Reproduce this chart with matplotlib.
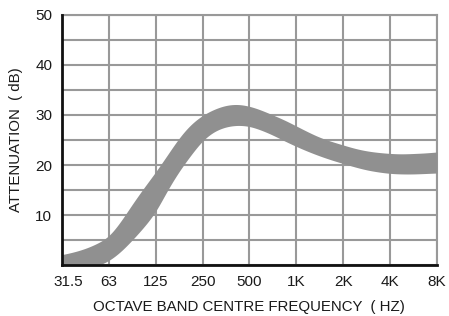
import numpy as np
import matplotlib.pyplot as plt
from matplotlib.transforms import ScaledTranslation

plt.rcParams['font.family'] = ['Liberation Sans', 'DejaVu Sans']

# octave band centre labels, placed at octave index 0..8
band_labels = ['31.5', '63', '125', '250', '500', '1K', '2K', '4K', '8K']

octave_pos = np.arange(0, 8.01, 0.25)
upper_db = [2.1, 2.6, 3.3, 4.3, 5.6, 8.6, 12.2, 15.5, 18.6, 22.0, 25.5, 28.2,
            30.0, 31.2, 32.0, 32.2, 31.8, 31.0, 30.0, 29.0, 27.8, 26.6, 25.5,
            24.7, 24.0, 23.3, 22.8, 22.5, 22.3, 22.2, 22.3, 22.4, 22.6]
lower_db = [-2.0, -1.5, -0.8, -0.2, 0.8, 2.6, 5.0, 7.6, 10.5, 15.0, 18.8, 22.0,
            25.0, 26.8, 27.7, 28.0, 27.8, 27.0, 26.0, 24.8, 23.7, 22.7, 21.8,
            21.0, 20.3, 19.6, 19.0, 18.6, 18.3, 18.2, 18.2, 18.3, 18.4]


def smooth(xs, ys, n=801, width=0.12):
    # linear resample then a light gaussian blur to round off the corners
    xf = np.linspace(xs[0], xs[-1], n)
    yf = np.interp(xf, xs, ys)
    step = xf[1] - xf[0]
    k = np.arange(-int(3 * width / step), int(3 * width / step) + 1) * step
    kern = np.exp(-0.5 * (k / width) ** 2)
    kern /= kern.sum()
    pad = len(k) // 2
    ypad = np.concatenate([np.full(pad, yf[0]) + (yf[0] - yf[1]) * np.arange(pad, 0, -1),
                           yf,
                           np.full(pad, yf[-1]) + (yf[-1] - yf[-2]) * np.arange(1, pad + 1)])
    return xf, np.convolve(ypad, kern, mode='valid')


fig = plt.figure(figsize=(4.49, 3.16), dpi=100)
ax = fig.add_axes([0.138, 0.161, 0.835, 0.792])

xs, up = smooth(octave_pos, upper_db)
_, lo = smooth(octave_pos, lower_db)
ax.fill_between(xs, lo, up, color='#909090', lw=0, zorder=3)

ax.set_xlim(0, 8)
ax.set_ylim(0, 50)
ax.set_xticks(range(len(band_labels)))
ax.set_xticklabels(band_labels)
ax.set_yticks(np.arange(0, 51, 5))
ax.set_yticklabels(['' if v % 10 or v == 0 else str(v) for v in range(0, 51, 5)])
ax.tick_params(length=0, labelsize=11, colors='#1a1a1a', pad=7)
first = ax.get_xticklabels()[0]
first.set_transform(first.get_transform() + ScaledTranslation(0.06, 0, fig.dpi_scale_trans))

ax.grid(True, color='#999999', lw=1.5, zorder=1)
ax.set_axisbelow(True)
for side in ['top', 'right']:
    ax.spines[side].set_color('#999999')
    ax.spines[side].set_linewidth(1.5)
for side in ['left', 'bottom']:
    ax.spines[side].set_color('#111111')
    ax.spines[side].set_linewidth(2)
    ax.spines[side].set_zorder(5)

ax.set_xlabel('OCTAVE BAND CENTRE FREQUENCY  ( HZ)', fontsize=10.8, color='#1a1a1a', labelpad=8)
ax.set_ylabel('ATTENUATION  ( dB)', fontsize=10.8, color='#1a1a1a', labelpad=9)

fig.savefig('out.png', dpi=100)
